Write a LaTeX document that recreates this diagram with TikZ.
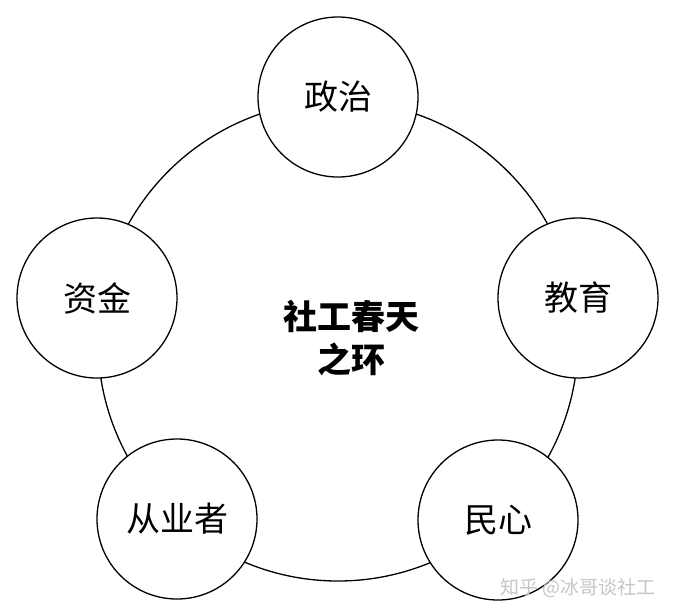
\documentclass[tikz,border=0pt]{standalone}
\usepackage{fontspec}
\newfontfamily\cjk{Noto Sans CJK SC}
\begin{document}
\begin{tikzpicture}[x=1pt,y=-1pt,
  ring/.style={draw=black,line width=1.3pt},
  bubble/.style={circle,draw=black,fill=white,line width=1.3pt,minimum size=160pt,inner sep=0pt,font=\cjk\fontsize{34}{40}\selectfont},
  centertext/.style={align=center,font=\cjk\bfseries\fontsize{34}{43}\selectfont},
  wmark/.style={text=gray!45,font=\cjk\fontsize{19}{22}\selectfont}]
\useasboundingbox[fill=white] (0,0) rectangle (674,614);
\coordinate (c) at (338,341);
\draw[ring] (c) circle[radius=240pt];
\node[bubble] (zz) at (338,97) {政治};
\node[bubble] (zj) at (97,298) {资金};
\node[bubble] (jy) at (578,298) {教育};
\node[bubble] (cy) at (177,519) {从业者};
\node[bubble] (mx) at (498,520) {民心};
\node[centertext] (ct) at (351,338) {社工春天\\之环};
\node[wmark] (wm) at (578,588) {知乎 @冰哥谈社工};
\end{tikzpicture}
\end{document}
